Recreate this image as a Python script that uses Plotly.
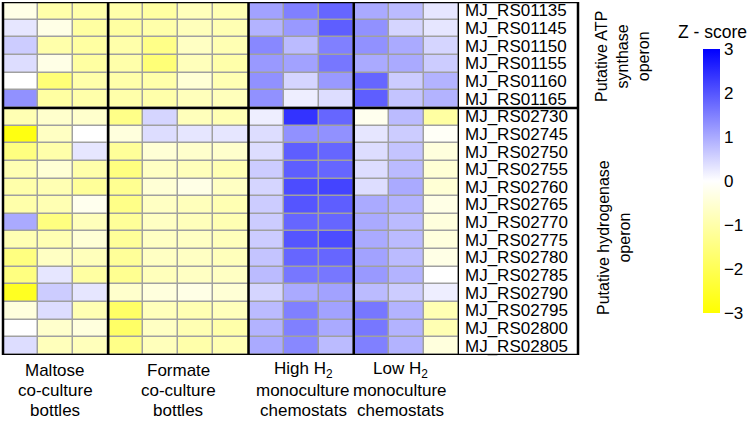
import plotly.graph_objects as go

genes = ["MJ_RS01135", "MJ_RS01145", "MJ_RS01150", "MJ_RS01155", "MJ_RS01160", "MJ_RS01165",
         "MJ_RS02730", "MJ_RS02745", "MJ_RS02750", "MJ_RS02755", "MJ_RS02760", "MJ_RS02765",
         "MJ_RS02770", "MJ_RS02775", "MJ_RS02780", "MJ_RS02785", "MJ_RS02790", "MJ_RS02795",
         "MJ_RS02800", "MJ_RS02805"]

maltose = [
    [-0.3, -1.0, -1.0], [0.3, -0.3, -1.1], [0.6, -1.0, -1.1], [0.4, -0.3, -1.1],
    [0.0, -1.6, -1.0], [1.3, -1.1, -1.0], [-0.9, -0.6, -0.6], [-2.8, -0.7, 0.0],
    [-1.5, -1.0, 0.3], [-0.9, -0.5, -1.0], [-1.0, -0.9, -1.2], [-1.0, -0.9, -0.2],
    [1.0, -1.5, -0.8], [-0.9, -0.9, -0.5], [-1.5, -0.7, -0.8], [-1.5, 0.3, -1.1],
    [-2.6, 0.6, 0.3], [-0.4, 0.4, -0.9], [0.0, -0.6, -0.4], [0.4, -0.8, -0.8]]
formate = [
    [-1.0, -1.1, -0.8, -0.9], [-1.1, -1.0, -0.8, -0.9], [-1.0, -1.4, -0.7, -0.9],
    [-1.0, -1.6, -0.8, -1.0], [-1.0, -1.0, -0.5, -0.9], [-1.0, -1.0, -0.8, -0.8],
    [-1.4, 0.5, -0.8, -0.9], [-0.4, 0.4, 0.3, 0.3], [-1.2, -0.5, -0.6, -0.6],
    [-1.5, -0.7, -0.8, -0.9], [-1.3, -0.5, -0.3, -0.7], [-1.4, -0.7, -0.8, -0.9],
    [-1.2, -0.7, -0.8, -0.9], [-1.2, -0.7, -0.7, -0.8], [-1.2, -0.7, -0.7, -0.8],
    [-1.3, -0.8, -0.7, -0.7], [-0.6, -0.4, -0.3, -0.5], [-1.8, -0.8, -0.9, -0.8],
    [-1.8, -0.7, -0.9, -1.0], [-1.4, -0.8, -1.0, -0.9]]
high_h2 = [
    [1.1, 1.5, 1.8], [0.9, 1.2, 1.9], [1.4, 0.8, 1.5], [1.2, 1.1, 1.6],
    [1.3, 0.5, 1.2], [1.3, 0.2, 0.4], [0.2, 2.4, 1.8], [0.4, 1.3, 1.3],
    [0.4, 1.9, 1.8], [0.6, 1.9, 1.8], [0.5, 2.1, 2.2], [0.6, 2.0, 1.9],
    [0.6, 1.8, 1.8], [0.6, 2.0, 2.1], [0.7, 1.8, 1.8], [0.8, 1.6, 1.6],
    [0.5, 1.0, 1.1], [0.8, 1.5, 1.1], [0.9, 1.5, 1.0], [1.0, 1.4, 0.8]]
low_h2 = [
    [1.0, 0.8, 0.3], [1.3, 0.5, 0.3], [1.3, 1.0, 0.5], [1.0, 1.0, 0.6],
    [1.8, 0.6, 0.9], [1.9, 0.7, 0.9], [-0.2, 0.8, -1.1], [0.3, 0.6, -0.1],
    [0.4, 0.7, -0.4], [0.4, 0.8, -0.5], [0.4, 1.0, -0.5], [1.0, 0.9, -0.3],
    [1.0, 0.8, -0.4], [1.0, 0.8, -0.4], [1.1, 0.8, -0.3], [1.2, 0.9, 0.0],
    [0.8, 0.6, 0.2], [1.6, 0.9, -0.9], [1.6, 0.9, -0.9], [1.5, 0.9, -0.4]]

group_lines = [["Maltose", "co-culture", "bottles"],
               ["Formate", "co-culture", "bottles"],
               ["High H<sub>2</sub>", "monoculture", "chemostats"],
               ["Low H<sub>2</sub>", "monoculture", "chemostats"]]
group_sizes = [3, 4, 3, 3]
operon_labels = ["Putative ATP<br>synthase<br>operon", "Putative hydrogenase<br>operon"]
colorbar_ticks = [-3, -2, -1, 0, 1, 2, 3]

z = [maltose[i] + formate[i] + high_h2[i] + low_h2[i] for i in range(len(genes))]
ncol = len(z[0])

W, H = 750, 422
def px(x):
    return x / W
def py(y):
    return 1 - y / H

FONT = "Liberation Sans, Arial, sans-serif"

fig = go.Figure()
fig.add_trace(go.Heatmap(
    z=z, x=list(range(ncol)), y=list(range(len(genes))),
    zmin=-3, zmax=3,
    colorscale=[[0, "#FFFF00"], [0.5, "#FFFFFF"], [1, "#0000FF"]],
    xgap=1.5, ygap=1.5,
    colorbar=dict(
        x=px(703), xanchor="left", xpad=0, ypad=0,
        y=py(181), yanchor="middle", len=264 / H, lenmode="fraction",
        thickness=17, outlinewidth=0,
        tickvals=colorbar_ticks, ticks="",
        tickfont=dict(family=FONT, size=17, color="black"),
    ),
))

fig.update_layout(
    width=W, height=H,
    margin=dict(l=0, r=0, t=0, b=0, autoexpand=False),
    paper_bgcolor="white", plot_bgcolor="#A0A0A0",
    font=dict(family=FONT, color="black"),
    xaxis=dict(domain=[px(3), px(459)], range=[-0.5, ncol - 0.5], visible=False, fixedrange=True),
    yaxis=dict(domain=[py(355), py(2)], range=[len(genes) - 0.5, -0.5], visible=False, fixedrange=True),
)

shapes = []
cum = 0
for s in group_sizes[:-1]:
    cum += s
    shapes.append(dict(type="line", xref="x", yref="y", x0=cum - 0.5, x1=cum - 0.5,
                       y0=-0.5, y1=len(genes) - 0.5, line=dict(color="black", width=2.5)))
shapes.append(dict(type="line", xref="x", yref="y", x0=ncol - 0.5, x1=ncol - 0.5,
                   y0=-0.5, y1=len(genes) - 0.5, line=dict(color="black", width=2.5)))
shapes.append(dict(type="line", xref="paper", yref="y", x0=px(3), x1=px(578),
                   y0=5.5, y1=5.5, line=dict(color="black", width=2.5)))
shapes.append(dict(type="rect", xref="paper", yref="y", x0=px(3), x1=px(578),
                   y0=-0.5, y1=len(genes) - 0.5, line=dict(color="black", width=2.5)))
fig.update_layout(shapes=shapes)

ann = []
for i, g in enumerate(genes):
    ann.append(dict(x=px(463), y=i, xref="paper", yref="y", text=g, showarrow=False,
                    xanchor="left", yanchor="middle", font=dict(size=17, family=FONT)))

centers = [55, 178, 303, 400]
line_y = [370, 390, 410]
for gi, lines in enumerate(group_lines):
    for li, t in enumerate(lines):
        ann.append(dict(x=px(centers[gi]), y=py(line_y[li]), xref="paper", yref="paper",
                        text=t, showarrow=False, xanchor="center", yanchor="middle",
                        font=dict(size=17, family=FONT)))

ann.append(dict(x=px(622), y=py(57), xref="paper", yref="paper", text=operon_labels[0],
                showarrow=False, textangle=-90, xanchor="center", yanchor="middle",
                font=dict(size=16, family=FONT)))
ann.append(dict(x=px(614), y=py(238), xref="paper", yref="paper", text=operon_labels[1],
                showarrow=False, textangle=-90, xanchor="center", yanchor="middle",
                font=dict(size=16, family=FONT)))
ann.append(dict(x=px(712), y=py(32), xref="paper", yref="paper", text="Z - score",
                showarrow=False, xanchor="center", yanchor="middle",
                font=dict(size=17.5, family=FONT)))
fig.update_layout(annotations=ann)

fig.write_html("out.html", config={"displayModeBar": False},
               post_script="document.body.style.margin='0';")
